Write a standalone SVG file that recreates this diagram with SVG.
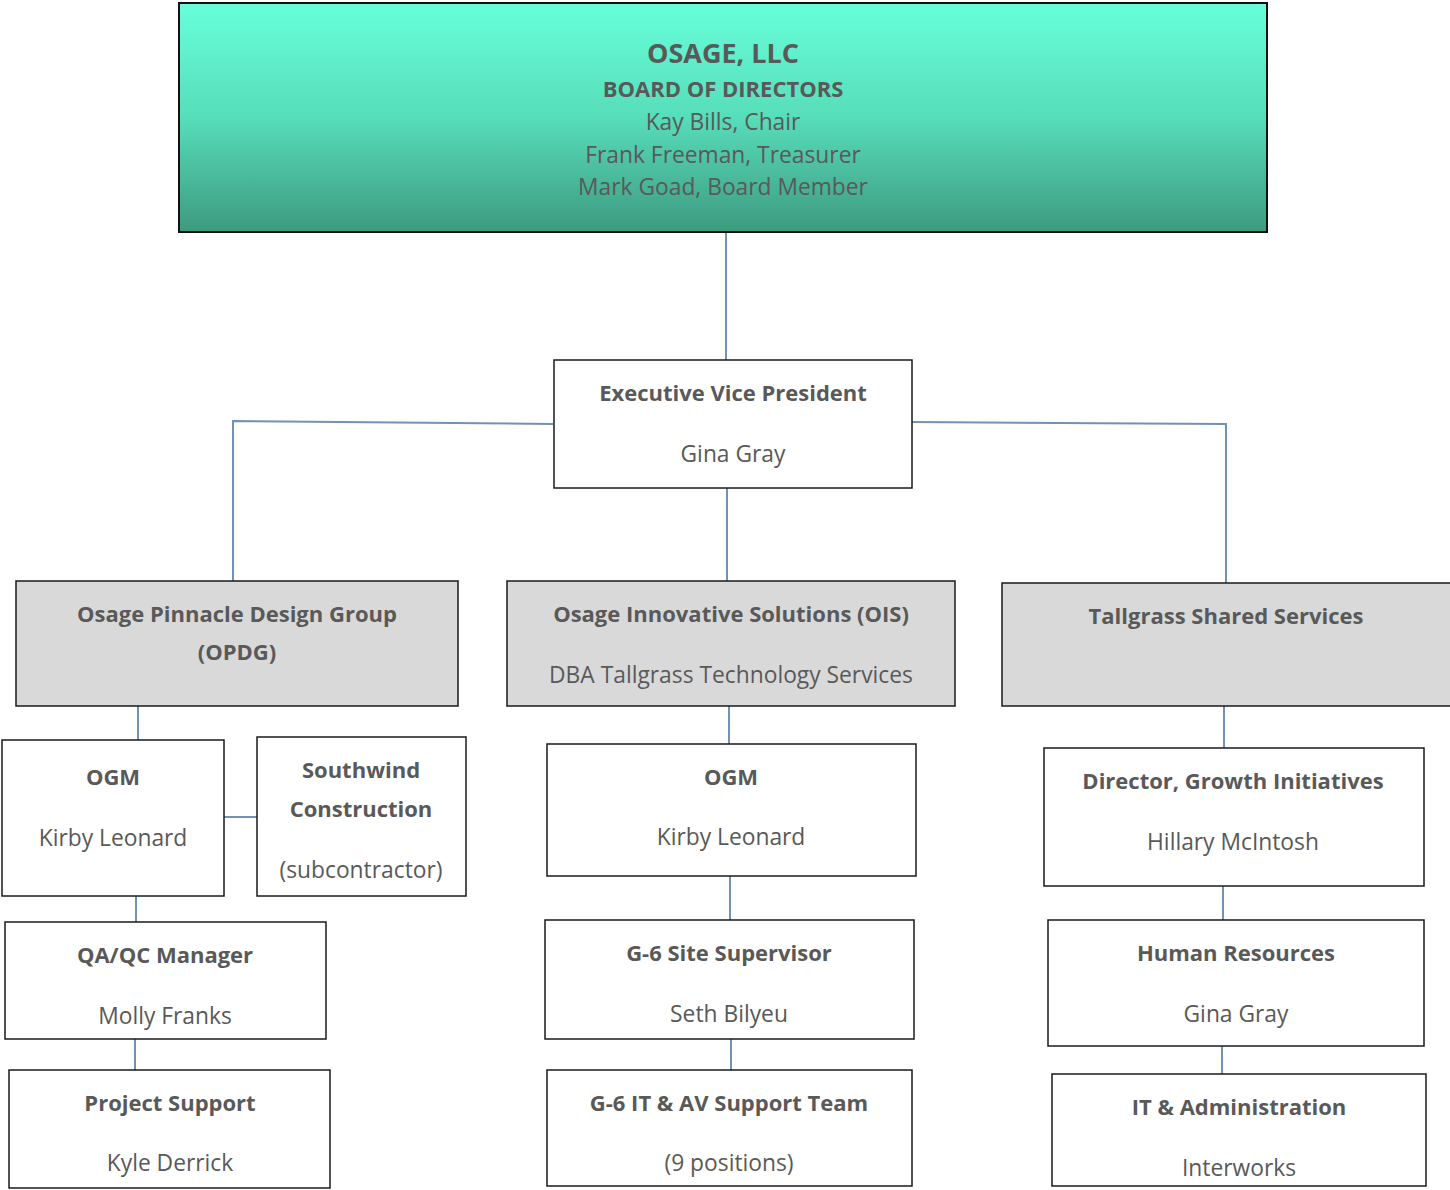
<svg xmlns="http://www.w3.org/2000/svg" width="1450" height="1190" viewBox="0 0 1450 1190">
<defs>
<linearGradient id="teal" x1="0" y1="0" x2="0" y2="1">
<stop offset="0" stop-color="#67FFDA"/>
<stop offset="0.5" stop-color="#57DDBA"/>
<stop offset="1" stop-color="#3D9A7F"/>
</linearGradient>
<style>
.box{fill:#FFFFFF;stroke:#1a1a1a;stroke-width:1.5}
.grey{fill:#D9D9D9;stroke:#1a1a1a;stroke-width:1.5}
.top{fill:url(#teal);stroke:#111;stroke-width:2}
.conn line, .conn polyline{stroke:#7093B3;stroke-width:2;fill:none}
text{font-family:"Open Sans",Lato,"Liberation Sans",sans-serif;fill:#595959;text-anchor:middle;font-size:22.8px}
.b{font-weight:bold;font-size:22px}
.big{font-size:27px;font-weight:bold}
</style>
</defs>
<rect width="1450" height="1190" fill="#FFFFFF"/>
<g class="conn" id="connectors">
<line x1="726" y1="232" x2="726" y2="360"/>
<polyline points="553,424 233,421 233,581"/>
<polyline points="912,422 1226,424 1226,583"/>
<line x1="727" y1="488" x2="727" y2="581"/>
<line x1="138" y1="706" x2="138" y2="740"/>
<line x1="224" y1="817" x2="257" y2="817"/>
<line x1="136" y1="896" x2="136" y2="922"/>
<line x1="135" y1="1039" x2="135" y2="1070"/>
<line x1="729" y1="706" x2="729" y2="744"/>
<line x1="730" y1="876" x2="730" y2="920"/>
<line x1="731" y1="1039" x2="731" y2="1070"/>
<line x1="1224" y1="706" x2="1224" y2="748"/>
<line x1="1223" y1="886" x2="1223" y2="920"/>
<line x1="1222" y1="1046" x2="1222" y2="1074"/>
</g>
<g id="board">
<rect class="top" x="179" y="3" width="1088" height="229"/>
<text class="big" x="723" y="63">OSAGE, LLC</text>
<text class="b" x="723" y="97">BOARD OF DIRECTORS</text>
<text x="723" y="130">Kay Bills, Chair</text>
<text x="723" y="163">Frank Freeman, Treasurer</text>
<text x="723" y="195">Mark Goad, Board Member</text>
</g>
<g id="evp">
<rect class="box" x="554" y="360" width="358" height="128"/>
<text class="b" x="733" y="401">Executive Vice President</text>
<text x="733" y="462">Gina Gray</text>
</g>
<g id="opdg">
<rect class="grey" x="16" y="581" width="442" height="125"/>
<text class="b" x="237" y="622">Osage Pinnacle Design Group</text>
<text class="b" x="237" y="660">(OPDG)</text>
</g>
<g id="ois">
<rect class="grey" x="507" y="581" width="448" height="125"/>
<text class="b" x="731" y="622">Osage Innovative Solutions (OIS)</text>
<text x="731" y="683">DBA Tallgrass Technology Services</text>
</g>
<g id="tallgrass">
<rect class="grey" x="1002" y="583" width="450" height="123"/>
<text class="b" x="1226" y="624">Tallgrass Shared Services</text>
</g>
<g id="ogm-left">
<rect class="box" x="2" y="740" width="222" height="156"/>
<text class="b" x="113" y="785">OGM</text>
<text x="113" y="846">Kirby Leonard</text>
</g>
<g id="southwind">
<rect class="box" x="257" y="737" width="209" height="159"/>
<text class="b" x="361" y="778">Southwind</text>
<text class="b" x="361" y="817">Construction</text>
<text x="361" y="878">(subcontractor)</text>
</g>
<g id="qaqc">
<rect class="box" x="5" y="922" width="321" height="117"/>
<text class="b" x="165" y="963">QA/QC Manager</text>
<text x="165" y="1024">Molly Franks</text>
</g>
<g id="project-support">
<rect class="box" x="9" y="1070" width="321" height="118"/>
<text class="b" x="170" y="1111">Project Support</text>
<text x="170" y="1171">Kyle Derrick</text>
</g>
<g id="ogm-mid">
<rect class="box" x="547" y="744" width="369" height="132"/>
<text class="b" x="731" y="785">OGM</text>
<text x="731" y="845">Kirby Leonard</text>
</g>
<g id="site-supervisor">
<rect class="box" x="545" y="920" width="369" height="119"/>
<text class="b" x="729" y="961">G-6 Site Supervisor</text>
<text x="729" y="1022">Seth Bilyeu</text>
</g>
<g id="it-av">
<rect class="box" x="547" y="1070" width="365" height="116"/>
<text class="b" x="729" y="1111">G-6 IT &amp; AV Support Team</text>
<text x="729" y="1171">(9 positions)</text>
</g>
<g id="director">
<rect class="box" x="1044" y="748" width="380" height="138"/>
<text class="b" x="1233" y="789">Director, Growth Initiatives</text>
<text x="1233" y="850">Hillary McIntosh</text>
</g>
<g id="hr">
<rect class="box" x="1048" y="920" width="376" height="126"/>
<text class="b" x="1236" y="961">Human Resources</text>
<text x="1236" y="1022">Gina Gray</text>
</g>
<g id="it-admin">
<rect class="box" x="1052" y="1074" width="374" height="112"/>
<text class="b" x="1239" y="1115">IT &amp; Administration</text>
<text x="1239" y="1176">Interworks</text>
</g>
</svg>
